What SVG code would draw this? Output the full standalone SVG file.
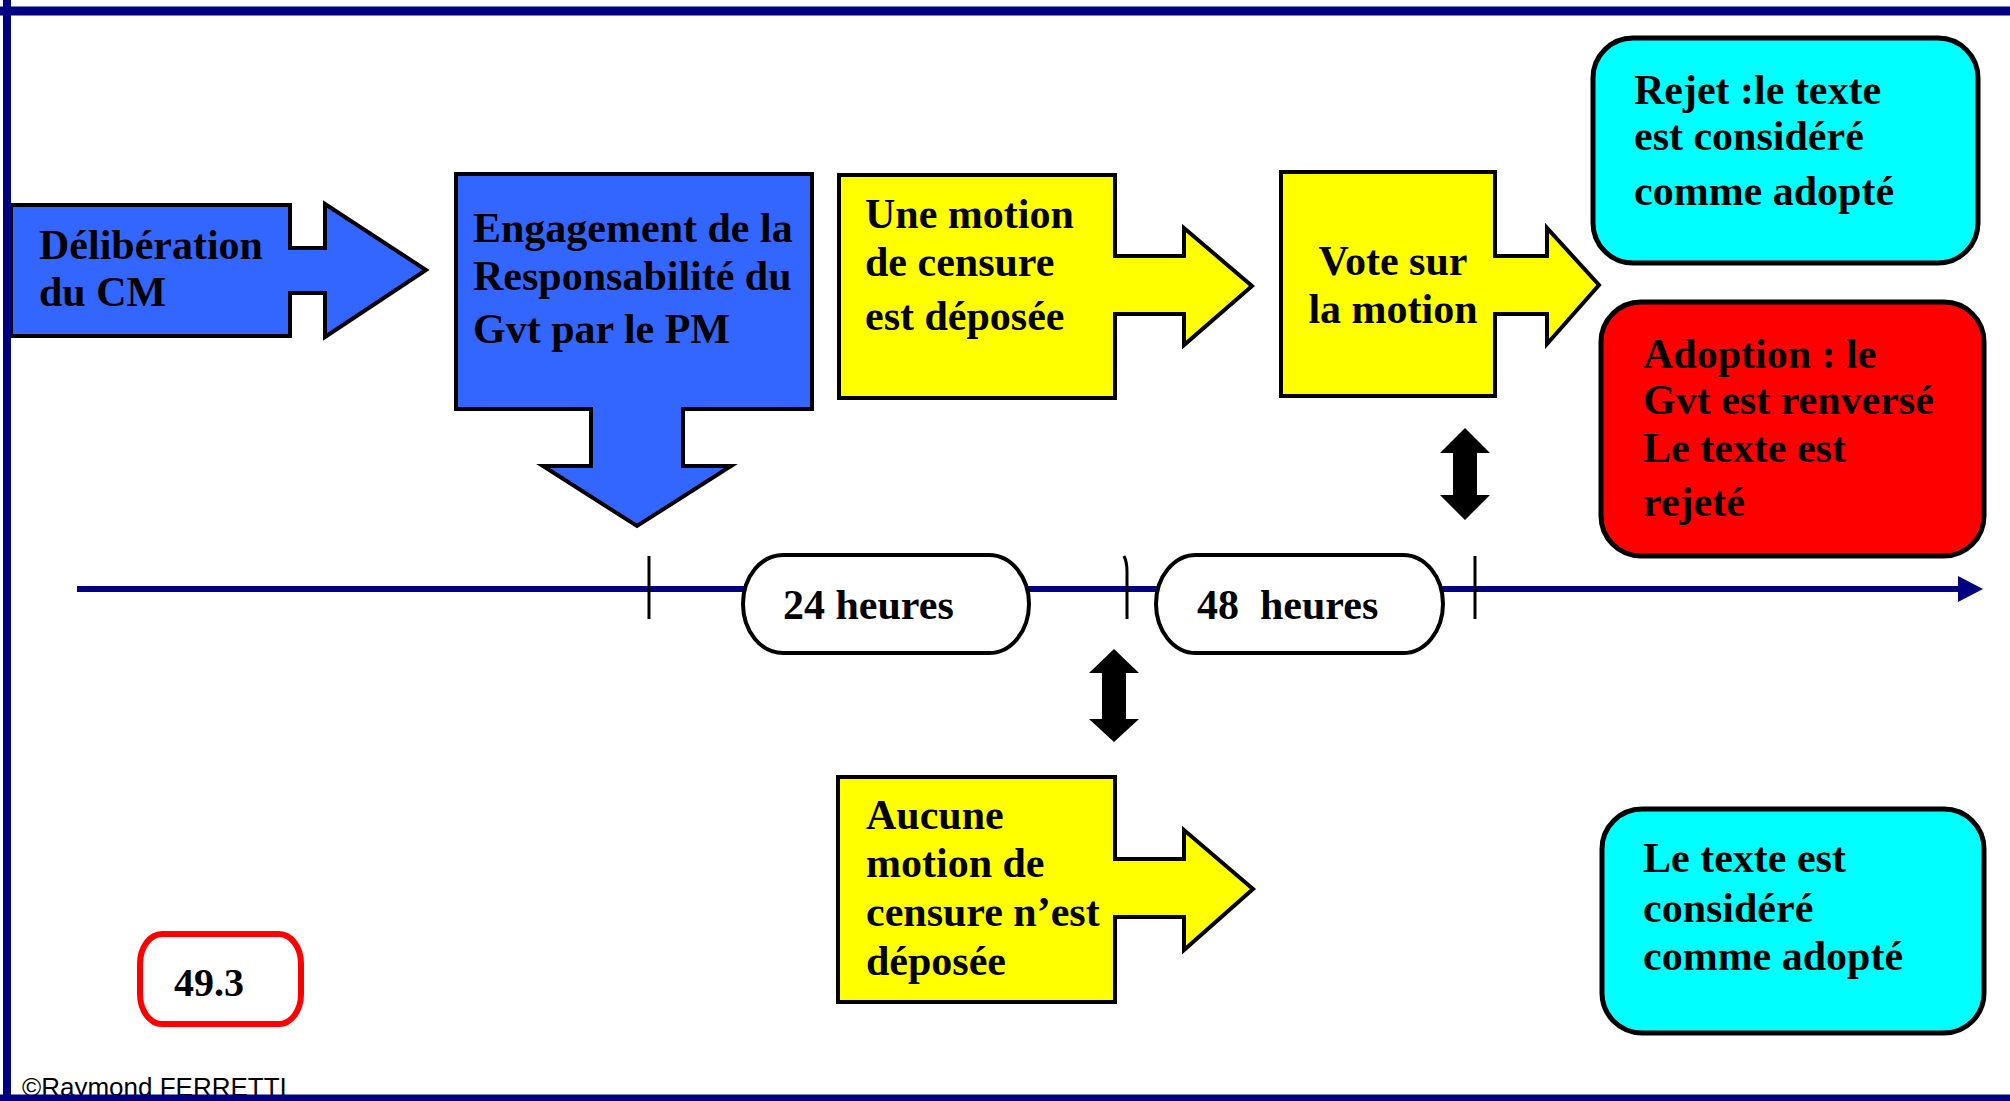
<svg xmlns="http://www.w3.org/2000/svg" width="2010" height="1101" viewBox="0 0 2010 1101">
<style>
.t{font-family:"Liberation Serif","Times New Roman",serif;font-weight:bold;font-size:42px;fill:#000}
.blue{fill:#3366FF;stroke:#000;stroke-width:4;stroke-linejoin:miter}
.yel{fill:#FFFF00;stroke:#000;stroke-width:4;stroke-linejoin:miter}
.cyan{fill:#00FFFF;stroke:#000;stroke-width:5}
.red{fill:#FF0000;stroke:#000;stroke-width:5}
.pill{fill:#fff;stroke:#000;stroke-width:4}
.tick{stroke:#000;stroke-width:3;fill:none}
.frame{stroke:#000080;fill:none}
</style>
<rect x="0" y="0" width="2010" height="1101" fill="#fff"/>

<g id="connectors">
  <line x1="77" y1="589" x2="1962" y2="589" stroke="#000080" stroke-width="6"/>
  <polygon points="1958,576 1983,589 1958,602" fill="#000080"/>
  <line class="tick" x1="649" y1="556" x2="649" y2="619"/>
  <path class="tick" d="M1124,556 Q1127,562 1127,572 L1127,619"/>
  <line class="tick" x1="1475" y1="556" x2="1475" y2="619"/>
  <path d="M1465,428 L1490,453 L1477,453 L1477,495 L1490,495 L1465,520 L1440,495 L1453,495 L1453,453 L1440,453 Z" fill="#000"/>
  <path d="M1114,649 L1139,673 L1126,673 L1126,719 L1139,719 L1114,742 L1089,719 L1102,719 L1102,673 L1089,673 Z" fill="#000"/>
</g>

<g id="deliberation">
  <polygon class="blue" points="11,205 290,205 290,248 325,248 325,204 426,270 325,337 325,293 290,293 290,336 11,336"/>
  <text class="t" x="39" y="259">Délibération</text>
  <text class="t" x="39" y="306">du CM</text>
</g>

<g id="engagement">
  <polygon class="blue" points="456,174 812,174 812,409 683,409 683,466 731,466 637,526 543,466 591,466 591,409 456,409"/>
  <text class="t" x="473" y="242">Engagement de la</text>
  <text class="t" x="473" y="290">Responsabilité du</text>
  <text class="t" x="473" y="343">Gvt par le PM</text>
</g>

<g id="motion-deposee">
  <polygon class="yel" points="839,175 1115,175 1115,256 1184,256 1184,228 1252,286 1184,345 1184,314 1115,314 1115,398 839,398"/>
  <text class="t" x="865" y="228">Une motion</text>
  <text class="t" x="865" y="276">de censure</text>
  <text class="t" x="865" y="330">est déposée</text>
</g>

<g id="vote">
  <polygon class="yel" points="1281,172 1495,172 1495,256 1547,256 1547,228 1599,285 1547,344 1547,314 1495,314 1495,396 1281,396"/>
  <text class="t" x="1393" y="275" text-anchor="middle">Vote sur</text>
  <text class="t" x="1393" y="323" text-anchor="middle">la motion</text>
</g>

<g id="rejet">
  <rect class="cyan" x="1593" y="38" width="385" height="225" rx="40" ry="40"/>
  <text class="t" x="1634" y="104">Rejet :le texte</text>
  <text class="t" x="1634" y="150">est considéré</text>
  <text class="t" x="1634" y="205">comme adopté</text>
</g>

<g id="adoption">
  <rect class="red" x="1601" y="302" width="383" height="254" rx="40" ry="40"/>
  <text class="t" x="1643" y="368">Adoption : le</text>
  <text class="t" x="1643" y="414">Gvt est renversé</text>
  <text class="t" x="1643" y="462">Le texte est</text>
  <text class="t" x="1643" y="516">rejeté</text>
</g>

<g id="h24">
  <rect class="pill" x="743" y="555" width="286" height="98" rx="40" ry="49"/>
  <text class="t" x="783" y="619">24 heures</text>
</g>

<g id="h48">
  <rect class="pill" x="1156" y="555" width="287" height="98" rx="40" ry="49"/>
  <text class="t" x="1197" y="619" xml:space="preserve">48  heures</text>
</g>

<g id="aucune-motion">
  <polygon class="yel" points="838,777 1115,777 1115,859 1184,859 1184,830 1253,889 1184,950 1184,917 1115,917 1115,1002 838,1002"/>
  <text class="t" x="866" y="829">Aucune</text>
  <text class="t" x="866" y="877">motion de</text>
  <text class="t" x="866" y="926">censure n’est</text>
  <text class="t" x="866" y="975">déposée</text>
</g>

<g id="adopte">
  <rect class="cyan" x="1602" y="809" width="382" height="224" rx="40" ry="40"/>
  <text class="t" x="1643" y="872">Le texte est</text>
  <text class="t" x="1643" y="922">considéré</text>
  <text class="t" x="1643" y="970">comme adopté</text>
</g>

<g id="article-49-3">
  <rect x="140" y="934" width="161" height="90" rx="22" ry="30" fill="#fff" stroke="#FF0000" stroke-width="6"/>
  <text class="t" x="174" y="996" style="font-size:40px">49.3</text>
</g>

<text x="22" y="1096" font-family="Liberation Sans, Arial, sans-serif" font-size="26" fill="#000">©Raymond FERRETTI</text>

<g id="frame">
  <line class="frame" x1="0" y1="11" x2="2010" y2="11" stroke-width="9"/>
  <line class="frame" x1="7" y1="0" x2="7" y2="1101" stroke-width="8"/>
  <line class="frame" x1="0" y1="1098" x2="2010" y2="1098" stroke-width="7"/>
</g>
</svg>
